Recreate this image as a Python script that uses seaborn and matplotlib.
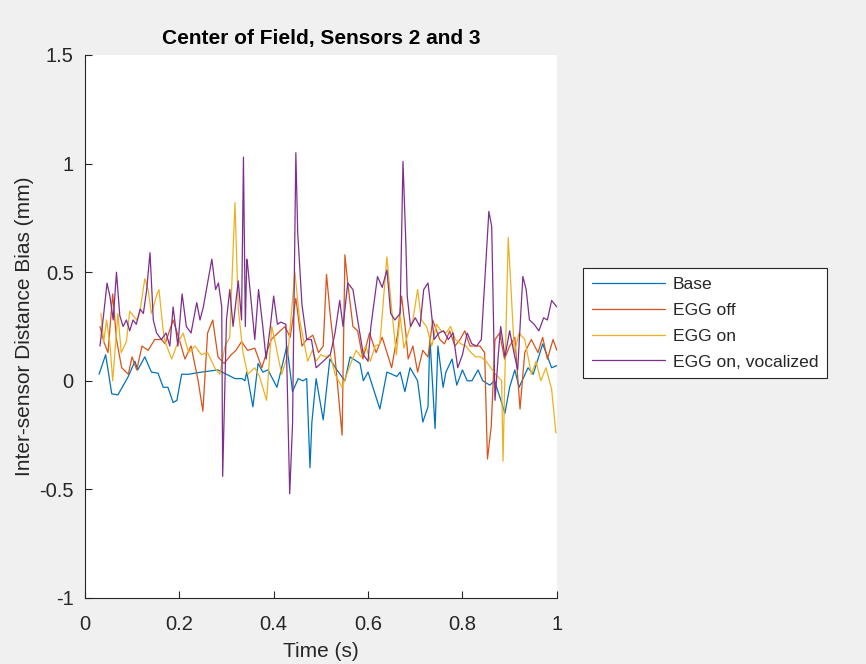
import numpy as np
import pandas as pd
import matplotlib
matplotlib.use("Agg")
import matplotlib.pyplot as plt
import seaborn as sns

# values (time in s, bias in mm)
t_base = [0.03, 0.044, 0.057, 0.07, 0.092, 0.106, 0.112, 0.127, 0.141, 0.155,
          0.166, 0.176, 0.187, 0.195, 0.205, 0.22, 0.247, 0.282, 0.3, 0.318,
          0.333, 0.339, 0.343, 0.356, 0.367, 0.377, 0.388, 0.407, 0.428, 0.435,
          0.44, 0.452, 0.462, 0.47, 0.477, 0.481, 0.49, 0.505, 0.519, 0.534,
          0.551, 0.562, 0.583, 0.59, 0.6, 0.625, 0.64, 0.661, 0.668, 0.678,
          0.689, 0.705, 0.716, 0.727, 0.731, 0.742, 0.748, 0.759, 0.765, 0.778,
          0.788, 0.8, 0.81, 0.82, 0.833, 0.843, 0.858, 0.868, 0.883, 0.89,
          0.9, 0.911, 0.92, 0.939, 0.95, 0.97, 0.989, 1.0]
base = [0.03, 0.12, -0.06, -0.065, 0.02, 0.09, 0.05, 0.11, 0.04, 0.035,
        -0.03, -0.03, -0.1, -0.09, 0.03, 0.03, 0.04, 0.05, 0.03, 0.01,
        0.01, 0.0, 0.04, -0.12, 0.08, 0.04, 0.05, -0.03, 0.16, 0.04,
        -0.05, 0.01, 0.0, 0.01, -0.40, -0.19, 0.01, -0.18, 0.1, 0.05,
        0.0, 0.11, 0.08, 0.0, 0.04, -0.13, 0.04, 0.02, 0.04, -0.05,
        0.06, 0.0, -0.19, -0.12, 0.2, -0.22, 0.16, -0.03, 0.04, 0.1,
        -0.02, 0.05, 0.0, 0.0, 0.05, 0.0, -0.02, 0.0, -0.1, -0.15,
        -0.03, 0.05, -0.03, 0.06, 0.03, 0.17, 0.06, 0.07]

t_off = [0.032, 0.04, 0.049, 0.059, 0.067, 0.078, 0.092, 0.1, 0.11, 0.121,
         0.134, 0.148, 0.163, 0.17, 0.187, 0.2, 0.212, 0.225, 0.24, 0.25,
         0.26, 0.271, 0.282, 0.295, 0.31, 0.32, 0.332, 0.345, 0.36, 0.375,
         0.385, 0.395, 0.409, 0.424, 0.435, 0.447, 0.46, 0.47, 0.483, 0.495,
         0.505, 0.512, 0.52, 0.53, 0.545, 0.551, 0.557, 0.568, 0.578, 0.589,
         0.603, 0.617, 0.63, 0.65, 0.663, 0.671, 0.68, 0.685, 0.695, 0.705,
         0.716, 0.727, 0.737, 0.752, 0.762, 0.773, 0.784, 0.795, 0.805, 0.816,
         0.826, 0.837, 0.847, 0.853, 0.861, 0.869, 0.879, 0.889, 0.9, 0.911,
         0.922, 0.932, 0.946, 0.96, 0.97, 0.98, 0.992, 1.0]
egg_off = [0.25, 0.18, 0.13, 0.4, 0.19, 0.06, 0.03, 0.11, 0.05, 0.16,
           0.14, 0.19, 0.19, 0.17, 0.28, 0.19, 0.1, 0.16, 0.0, -0.14,
           0.22, 0.28, 0.11, 0.08, 0.12, 0.14, 0.18, 0.14, 0.15, 0.06,
           0.13, 0.19, 0.22, 0.25, 0.2, 0.38, 0.16, 0.19, 0.21, 0.13,
           0.16, 0.49, 0.3, 0.11, -0.25, 0.58, 0.45, 0.25, 0.23, 0.1,
           0.22, 0.13, 0.2, 0.06, 0.22, 0.39, 0.22, 0.1, 0.16, 0.04,
           0.14, 0.11, 0.28, 0.19, 0.17, 0.23, 0.16, 0.19, 0.23, 0.16,
           0.16, 0.16, 0.13, -0.36, -0.21, 0.19, 0.22, 0.1, 0.16, 0.2,
           -0.13, 0.13, 0.19, 0.13, 0.2, 0.1, 0.19, 0.14]

t_on = [0.034, 0.04, 0.046, 0.053, 0.059, 0.07, 0.077, 0.088, 0.095, 0.11,
        0.116, 0.127, 0.134, 0.141, 0.153, 0.157, 0.166, 0.17, 0.184, 0.194,
        0.208, 0.22, 0.233, 0.247, 0.26, 0.275, 0.286, 0.297, 0.307, 0.318,
        0.325, 0.335, 0.345, 0.36, 0.37, 0.385, 0.396, 0.403, 0.417, 0.43,
        0.445, 0.455, 0.465, 0.472, 0.482, 0.49, 0.5, 0.51, 0.52, 0.53,
        0.545, 0.555, 0.565, 0.575, 0.585, 0.595, 0.605, 0.615, 0.625, 0.64,
        0.65, 0.66, 0.668, 0.676, 0.685, 0.695, 0.705, 0.713, 0.724, 0.735,
        0.745, 0.755, 0.765, 0.775, 0.785, 0.797, 0.807, 0.818, 0.828, 0.839,
        0.85, 0.86, 0.87, 0.883, 0.886, 0.89, 0.897, 0.903, 0.91, 0.92,
        0.932, 0.946, 0.956, 0.966, 0.977, 0.989, 0.998]
egg_on = [0.31, 0.18, 0.28, 0.17, 0.0, 0.31, 0.13, 0.18, 0.32, 0.28,
          0.31, 0.47, 0.42, 0.31, 0.4, 0.42, 0.23, 0.18, 0.1, 0.16,
          0.22, 0.13, 0.16, 0.12, 0.13, 0.06, 0.03, 0.16, 0.2, 0.82,
          0.33, 0.13, 0.03, 0.06, 0.02, -0.09, 0.25, 0.18, 0.03, 0.12,
          0.5, 0.28, 0.17, 0.09, 0.14, 0.09, 0.12, 0.11, 0.12, 0.03,
          -0.03, 0.03, 0.09, 0.14, 0.11, 0.16, 0.09, 0.16, 0.17, 0.57,
          0.33, 0.12, 0.3, 0.15, 0.22, 0.28, 0.42, 0.28, 0.25, 0.16,
          0.26, 0.23, 0.22, 0.25, 0.19, 0.17, 0.16, 0.13, 0.11, 0.11,
          0.09, 0.06, 0.03, 0.0, -0.37, 0.03, 0.66, 0.42, 0.13, 0.22,
          0.19, 0.03, 0.09, 0.0, 0.06, -0.04, -0.24]

t_voc = [0.032, 0.04, 0.047, 0.053, 0.06, 0.067, 0.074, 0.081, 0.088, 0.095,
         0.102, 0.109, 0.117, 0.124, 0.131, 0.138, 0.145, 0.152, 0.162, 0.172,
         0.18, 0.187, 0.197, 0.206, 0.215, 0.225, 0.237, 0.244, 0.251, 0.26,
         0.269, 0.277, 0.283, 0.29, 0.292, 0.3, 0.307, 0.314, 0.325, 0.332,
         0.336, 0.34, 0.343, 0.345, 0.353, 0.36, 0.368, 0.377, 0.384, 0.393,
         0.4, 0.408, 0.415, 0.426, 0.434, 0.44, 0.447, 0.451, 0.46, 0.47,
         0.48, 0.49, 0.505, 0.52, 0.53, 0.54, 0.547, 0.557, 0.568, 0.578,
         0.59, 0.6, 0.606, 0.62, 0.63, 0.64, 0.648, 0.657, 0.668, 0.674,
         0.68, 0.683, 0.69, 0.7, 0.71, 0.718, 0.727, 0.733, 0.74, 0.75,
         0.76, 0.77, 0.78, 0.79, 0.8, 0.81, 0.82, 0.83, 0.84, 0.856,
         0.862, 0.869, 0.876, 0.881, 0.89, 0.9, 0.91, 0.917, 0.928, 0.935,
         0.942, 0.952, 0.962, 0.972, 0.98, 0.989, 1.0]
egg_voc = [0.16, 0.31, 0.45, 0.39, 0.28, 0.5, 0.3, 0.25, 0.28, 0.23,
           0.28, 0.26, 0.33, 0.31, 0.42, 0.59, 0.28, 0.22, 0.19, 0.22,
           0.16, 0.34, 0.16, 0.4, 0.25, 0.22, 0.36, 0.28, 0.34, 0.45,
           0.56, 0.42, 0.45, 0.34, -0.44, 0.28, 0.42, 0.25, 0.46, 0.28,
           1.03, 0.25, 0.56, 0.53, 0.35, 0.19, 0.42, 0.25, 0.1, 0.25,
           0.39, 0.26, 0.27, 0.26, -0.52, -0.2, 1.05, 0.68, 0.35, 0.19,
           0.19, 0.06, 0.09, 0.12, 0.22, 0.37, 0.25, 0.45, 0.42, 0.28,
           0.12, 0.09, 0.25, 0.48, 0.43, 0.51, 0.31, 0.28, 0.31, 1.01,
           0.64, 0.39, 0.25, 0.29, 0.25, 0.42, 0.45, 0.34, 0.19, 0.22,
           0.23, 0.19, 0.22, 0.06, 0.12, 0.22, 0.17, 0.16, 0.19, 0.78,
           0.71, -0.09, 0.12, 0.25, 0.11, 0.23, 0.12, 0.05, 0.48, 0.42,
           0.28, 0.26, 0.23, 0.29, 0.28, 0.37, 0.34]

labels = ['Base', 'EGG off', 'EGG on', 'EGG on, vocalized']
colors = ['#0072BD', '#D95319', '#EDB120', '#7E2F8E']
x_ticks = [0, 0.2, 0.4, 0.6, 0.8, 1]
y_ticks = [-1, -0.5, 0, 0.5, 1, 1.5]

frames = []
for name, t, v in zip(labels, [t_base, t_off, t_on, t_voc],
                      [base, egg_off, egg_on, egg_voc]):
    frames.append(pd.DataFrame({'t': t, 'v': v, 'series': name}))
df = pd.concat(frames, ignore_index=True)

sns.set_style("white")
plt.rcParams['font.family'] = ['Liberation Sans', 'DejaVu Sans']

fig = plt.figure(figsize=(8.66, 6.64), dpi=100, facecolor='#f0f0f0')
ax = fig.add_axes([0.098, 0.0994, 0.545, 0.8178])
ax.set_facecolor('white')

sns.lineplot(data=df, x='t', y='v', hue='series', hue_order=labels,
             palette=colors, estimator=None, sort=False, linewidth=0.9,
             legend=False, ax=ax)

ax.set_xlim(0, 1)
ax.set_ylim(-1, 1.5)
ax.set_xticks(x_ticks)
ax.set_xticklabels([f'{v:g}' for v in x_ticks])
ax.set_yticks(y_ticks)
ax.set_yticklabels([f'{v:g}' for v in y_ticks])
ax.tick_params(axis='both', direction='in', length=5, width=0.8,
               colors='#262626', labelsize=14.5, left=True, bottom=True)
ax.tick_params(axis='x', pad=12)
ax.tick_params(axis='y', pad=8)
for side in ['top', 'right']:
    ax.spines[side].set_visible(False)
for side in ['left', 'bottom']:
    ax.spines[side].set_color('#262626')
    ax.spines[side].set_linewidth(0.8)

ax.set_xlabel('Time (s)', fontsize=15, color='#262626', labelpad=6)
ax.set_ylabel('Inter-sensor Distance Bias (mm)', fontsize=15,
              color='#262626', labelpad=4)
ax.set_title('Center of Field, Sensors 2 and 3', fontsize=15,
             fontweight='bold', color='black', pad=8)

leg = fig.legend(ax.get_lines()[:4], labels, loc='upper left',
                 bbox_to_anchor=(0.673, 0.596), fontsize=12.6,
                 frameon=True, fancybox=False, edgecolor='#262626',
                 framealpha=1, handlelength=4.2, handletextpad=0.45,
                 labelspacing=0.6, borderpad=0.5, borderaxespad=0)
leg.get_frame().set_linewidth(0.8)

fig.savefig('out.png', dpi=100, facecolor=fig.get_facecolor())
